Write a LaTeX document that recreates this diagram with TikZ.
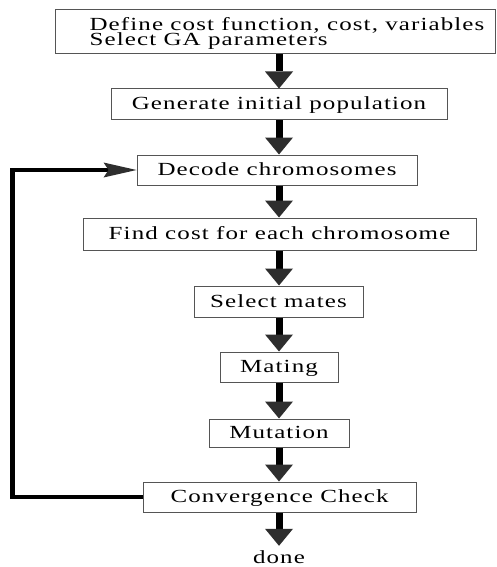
\documentclass[tikz,border=0pt]{standalone}
\usepackage{fontspec}
\setmainfont{Liberation Serif}[FakeStretch=1.35, LetterSpace=6]
\usetikzlibrary{arrows.meta}
\definecolor{tipgray}{HTML}{2E2E2E}
\definecolor{boxgray}{HTML}{555555}
\newcommand\diagfont{\fontsize{18.5}{15}\selectfont}
\begin{document}
\begin{tikzpicture}[x=1pt,y=-1pt,
  txt/.style={font=\diagfont, text=black},
  box/.style={txt, draw=boxgray, line width=1pt, inner sep=0pt, fill=white},
  onel/.style={box, text height=11pt, text depth=0pt},
  flow/.style={draw=black, line width=7pt,
    -{Triangle[width=28pt,length=17pt,line width=0pt,fill=tipgray,color=tipgray]}},
  back/.style={draw=black, line width=4.5pt,
    -{Stealth[width=15pt,length=33pt,inset=5pt,line width=0pt,fill=tipgray,color=tipgray]}}]
\useasboundingbox (0,0) rectangle (497,567);
\fill[white] (0,0) rectangle (497,567);

\node[box, minimum width=440pt, minimum height=44pt, text height=11.5pt, text depth=15pt] (b1) at (275,32)
  {\hspace*{24pt}\rlap{\raisebox{-15pt}{Select GA parameters}}Define cost function, cost, variables};
\node[onel, minimum width=336pt, minimum height=31pt] (b2) at (279,104.5) {Generate initial population};
\node[onel, minimum width=280pt, minimum height=30pt] (b3) at (277,170) {Decode chromosomes};
\node[onel, minimum width=393pt, minimum height=32pt] (b4) at (279.5,234) {Find cost for each chromosome};
\node[onel, minimum width=169pt, minimum height=31pt] (b5) at (278.5,301.5) {Select mates};
\node[onel, minimum width=118pt, minimum height=30pt] (b6) at (279,367) {Mating};
\node[onel, minimum width=140pt, minimum height=28pt] (b7) at (279,433) {Mutation};
\node[onel, minimum width=273pt, minimum height=30pt] (b8) at (279.5,497) {Convergence Check};
\node[txt, inner sep=4.5pt] (done) at (279,557) {done};

\coordinate (c1) at (12.5,497);
\coordinate (c2) at (12.5,170);

\draw[flow] (b1.south -| 279,0) -- (b2.north -| 279,0);
\draw[flow] (b2.south -| 279,0) -- (b3.north -| 279,0);
\draw[flow] (b3.south -| 279,0) -- (b4.north -| 279,0);
\draw[flow] (b4.south -| 279,0) -- (b5.north -| 279,0);
\draw[flow] (b5.south -| 279,0) -- (b6.north -| 279,0);
\draw[flow] (b6.south -| 279,0) -- (b7.north -| 279,0);
\draw[flow] (b7.south -| 279,0) -- (b8.north -| 279,0);
\draw[flow] (b8.south -| 279,0) -- (done.north -| 279,0);

\draw[back] (b8.west) -- (c1) -- (c2) -- (b3.west);
\end{tikzpicture}
\end{document}
